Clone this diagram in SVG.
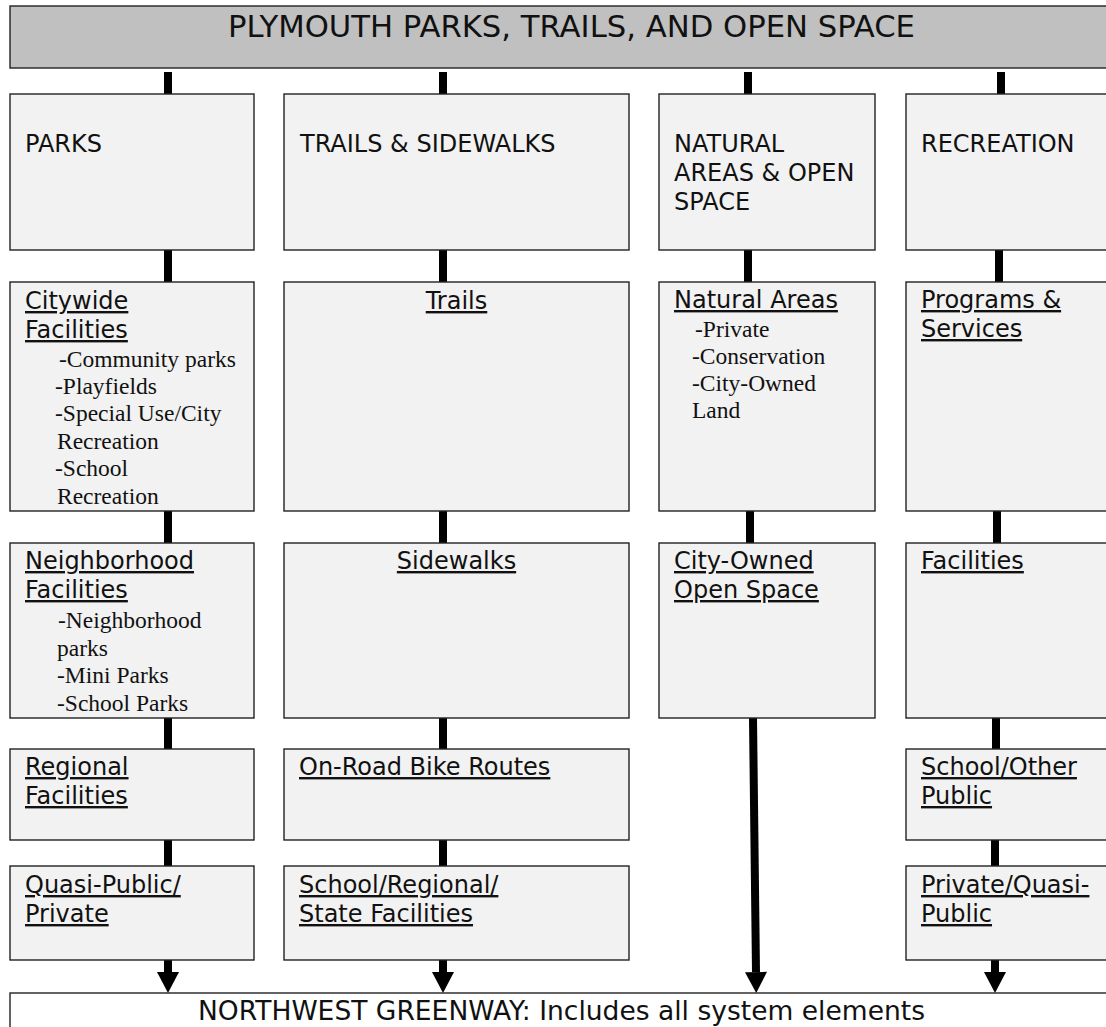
<svg xmlns="http://www.w3.org/2000/svg" width="1106" height="1027" viewBox="0 0 1106 1027">
<style>
.box{fill:#f2f2f2;stroke:#222;stroke-width:1.4}
.banner{fill:#c0c0c0;stroke:#222;stroke-width:1.4}
.wbox{fill:#ffffff;stroke:#222;stroke-width:1.4}
.h{font-family:"DejaVu Sans",sans-serif;font-size:24px;fill:#111}
.u{font-family:"DejaVu Sans",sans-serif;font-size:24px;fill:#111;text-decoration:underline;text-decoration-thickness:2px}
.s{font-family:"Liberation Serif",serif;font-size:23.5px;fill:#111}
.big{font-family:"DejaVu Sans",sans-serif;font-size:30.5px;fill:#111}
.gw{font-family:"DejaVu Sans",sans-serif;font-size:26.5px;fill:#111}
.c{stroke:#000;stroke-width:8;fill:none}
.a{stroke:#000;stroke-width:8;fill:none;marker-end:url(#ah)}
</style>
<defs>
<marker id="ah" markerUnits="userSpaceOnUse" markerWidth="22" markerHeight="22" refX="0" refY="11" orient="auto" overflow="visible">
<path d="M0,0 L21,11 L0,22 Z" fill="#000"/>
</marker>
</defs>

<g id="title">
<rect class="banner" x="10" y="6" width="1110" height="62"/>
<text class="big" x="228" y="37" textLength="687" lengthAdjust="spacingAndGlyphs">PLYMOUTH PARKS, TRAILS, AND OPEN SPACE</text>
</g>

<g id="connectors">
<line class="c" x1="168" y1="72" x2="168" y2="94"/>
<line class="c" x1="443" y1="72" x2="443" y2="94"/>
<line class="c" x1="748" y1="72" x2="748" y2="94"/>
<line class="c" x1="1001" y1="72" x2="1001" y2="94"/>
<line class="c" x1="168" y1="250" x2="168" y2="282"/>
<line class="c" x1="443" y1="250" x2="443" y2="282"/>
<line class="c" x1="748" y1="250" x2="748" y2="282"/>
<line class="c" x1="999" y1="250" x2="999" y2="282"/>
<line class="c" x1="168" y1="511" x2="168" y2="543"/>
<line class="c" x1="443" y1="511" x2="443" y2="543"/>
<line class="c" x1="750" y1="511" x2="750" y2="543"/>
<line class="c" x1="997" y1="511" x2="997" y2="543"/>
<line class="c" x1="168" y1="718" x2="168" y2="749"/>
<line class="c" x1="443" y1="718" x2="443" y2="749"/>
<line class="c" x1="996" y1="718" x2="996" y2="749"/>
<line class="c" x1="168" y1="840" x2="168" y2="866"/>
<line class="c" x1="443" y1="840" x2="443" y2="866"/>
<line class="c" x1="995" y1="840" x2="995" y2="866"/>
<line class="a" x1="168" y1="960" x2="168" y2="972"/>
<line class="a" x1="443" y1="960" x2="443" y2="972"/>
<line class="a" x1="753" y1="718" x2="756" y2="972"/>
<line class="a" x1="995" y1="960" x2="995" y2="972"/>
</g>

<g id="parks">
<rect class="box" x="10" y="94" width="244" height="156"/>
<text class="h" x="25" y="152">PARKS</text>
</g>
<g id="trails-sidewalks">
<rect class="box" x="284" y="94" width="345" height="156"/>
<text class="h" x="300" y="152">TRAILS &amp; SIDEWALKS</text>
</g>
<g id="natural-areas-open-space">
<rect class="box" x="659" y="94" width="216" height="156"/>
<text class="h" x="674" y="152">NATURAL</text>
<text class="h" x="674" y="181">AREAS &amp; OPEN</text>
<text class="h" x="674" y="210">SPACE</text>
</g>
<g id="recreation">
<rect class="box" x="906" y="94" width="220" height="156"/>
<text class="h" x="921" y="152">RECREATION</text>
</g>

<g id="citywide-facilities">
<rect class="box" x="10" y="282" width="244" height="229"/>
<text class="u" x="25" y="309">Citywide</text>
<text class="u" x="25" y="338">Facilities</text>
<text class="s" x="59" y="367">-Community parks</text>
<text class="s" x="55" y="394">-Playfields</text>
<text class="s" x="55" y="421">-Special Use/City</text>
<text class="s" x="57" y="449">Recreation</text>
<text class="s" x="55" y="476">-School</text>
<text class="s" x="57" y="504">Recreation</text>
</g>
<g id="trails">
<rect class="box" x="284" y="282" width="345" height="229"/>
<text class="u" x="456.5" y="309" text-anchor="middle">Trails</text>
</g>
<g id="natural-areas">
<rect class="box" x="659" y="282" width="216" height="229"/>
<text class="u" x="674" y="308">Natural Areas</text>
<text class="s" x="695" y="337">-Private</text>
<text class="s" x="692" y="364">-Conservation</text>
<text class="s" x="692" y="391">-City-Owned</text>
<text class="s" x="692" y="418">Land</text>
</g>
<g id="programs-services">
<rect class="box" x="906" y="282" width="220" height="229"/>
<text class="u" x="921" y="308">Programs &amp;</text>
<text class="u" x="921" y="337">Services</text>
</g>

<g id="neighborhood-facilities">
<rect class="box" x="10" y="543" width="244" height="175"/>
<text class="u" x="25" y="569">Neighborhood</text>
<text class="u" x="25" y="598">Facilities</text>
<text class="s" x="58" y="628">-Neighborhood</text>
<text class="s" x="57" y="656">parks</text>
<text class="s" x="57" y="683">-Mini Parks</text>
<text class="s" x="57" y="711">-School Parks</text>
</g>
<g id="sidewalks">
<rect class="box" x="284" y="543" width="345" height="175"/>
<text class="u" x="456.5" y="569" text-anchor="middle">Sidewalks</text>
</g>
<g id="city-owned-open-space">
<rect class="box" x="659" y="543" width="216" height="175"/>
<text class="u" x="674" y="569">City-Owned</text>
<text class="u" x="674" y="598">Open Space</text>
</g>
<g id="recreation-facilities">
<rect class="box" x="906" y="543" width="220" height="175"/>
<text class="u" x="921" y="569">Facilities</text>
</g>

<g id="regional-facilities">
<rect class="box" x="10" y="749" width="244" height="91"/>
<text class="u" x="25" y="775">Regional</text>
<text class="u" x="25" y="804">Facilities</text>
</g>
<g id="on-road-bike-routes">
<rect class="box" x="284" y="749" width="345" height="91"/>
<text class="u" x="299" y="775">On-Road Bike Routes</text>
</g>
<g id="school-other-public">
<rect class="box" x="906" y="749" width="220" height="91"/>
<text class="u" x="921" y="775">School/Other</text>
<text class="u" x="921" y="804">Public</text>
</g>

<g id="quasi-public-private">
<rect class="box" x="10" y="866" width="244" height="94"/>
<text class="u" x="25" y="893">Quasi-Public/</text>
<text class="u" x="25" y="922">Private</text>
</g>
<g id="school-regional-state">
<rect class="box" x="284" y="866" width="345" height="94"/>
<text class="u" x="299" y="893">School/Regional/</text>
<text class="u" x="299" y="922">State Facilities</text>
</g>
<g id="private-quasi-public">
<rect class="box" x="906" y="866" width="220" height="94"/>
<text class="u" x="921" y="893">Private/Quasi-</text>
<text class="u" x="921" y="922">Public</text>
</g>

<g id="northwest-greenway">
<rect class="wbox" x="10" y="993" width="1110" height="60"/>
<text class="gw" x="198" y="1020" textLength="727" lengthAdjust="spacingAndGlyphs">NORTHWEST GREENWAY: Includes all system elements</text>
</g>
</svg>
